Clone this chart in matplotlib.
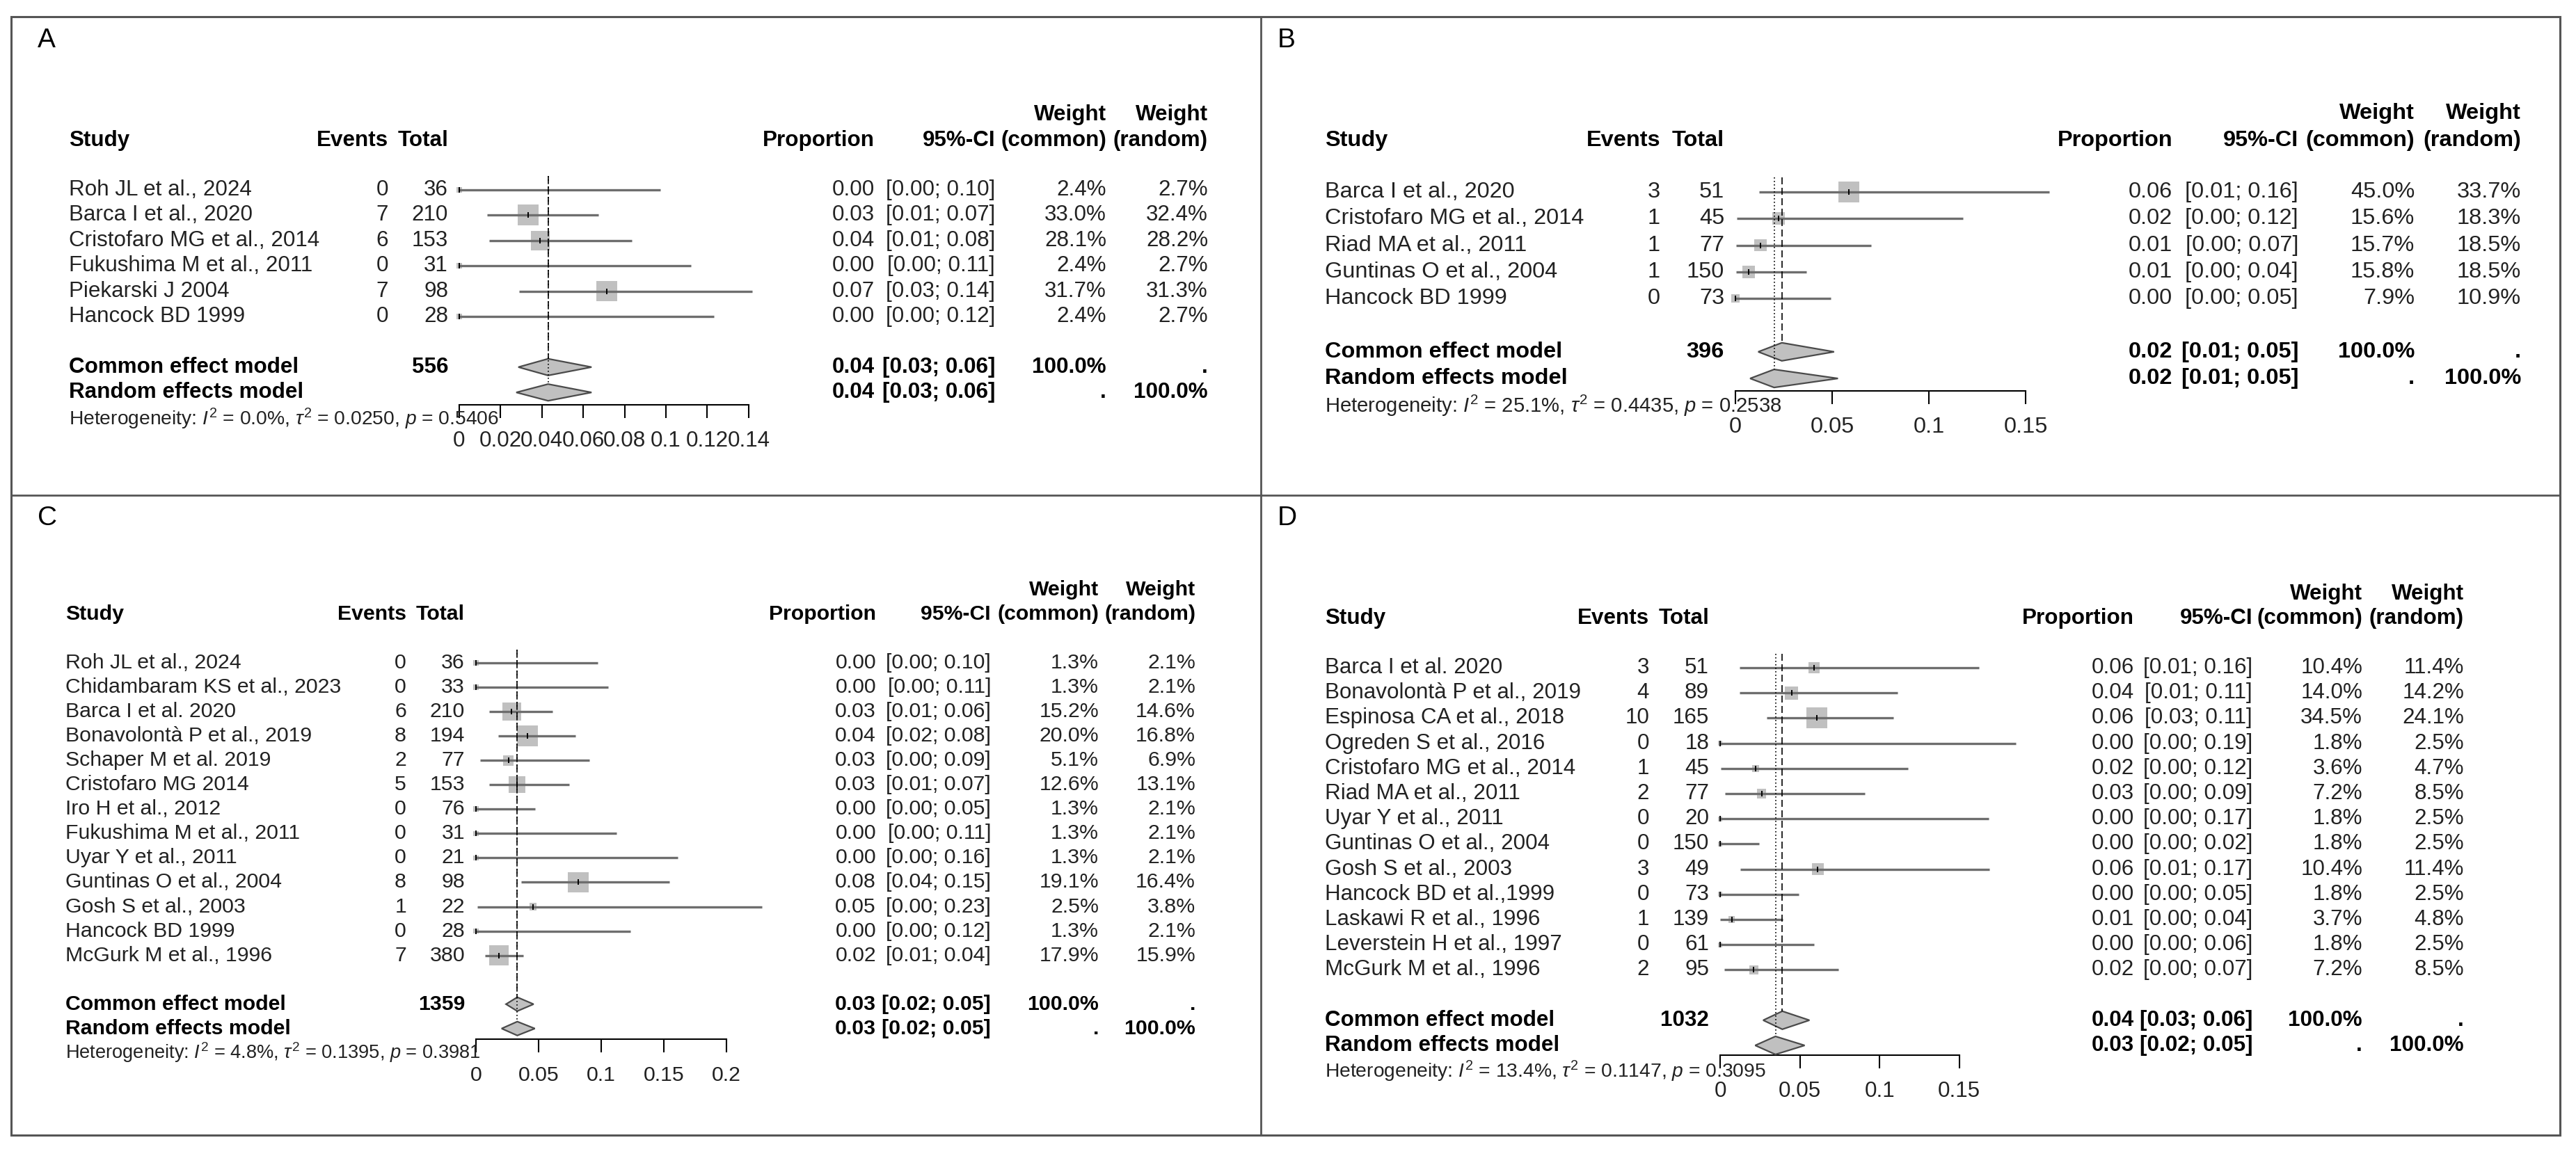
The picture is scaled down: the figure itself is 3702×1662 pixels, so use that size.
import matplotlib
matplotlib.use("Agg")
import matplotlib.pyplot as plt
from matplotlib.patches import Polygon, Rectangle
from matplotlib.transforms import blended_transform_factory
import numpy as np

plt.rcParams['font.family'] = ['Liberation Sans', 'DejaVu Sans']
plt.rcParams['mathtext.fontset'] = 'custom'
plt.rcParams['mathtext.rm'] = 'Liberation Sans'
plt.rcParams['mathtext.it'] = 'Liberation Sans:italic'
plt.rcParams['mathtext.bf'] = 'Liberation Sans:bold'

W, H = 3702, 1662

# ---------------- panel A ----------------
studies_a = ["Roh JL et al., 2024", "Barca I et al., 2020", "Cristofaro MG et al., 2014",
             "Fukushima M et al., 2011", "Piekarski J 2004", "Hancock BD 1999"]
events_a = [0, 7, 6, 0, 7, 0]
totals_a = [36, 210, 153, 31, 98, 28]
prop_a = [0.0, 0.0333, 0.0392, 0.0, 0.0714, 0.0]
lower_a = [0.0, 0.0135, 0.0145, 0.0, 0.0290, 0.0]
upper_a = [0.0974, 0.0675, 0.0834, 0.1120, 0.1417, 0.1234]
wcom_a = [2.4, 33.0, 28.1, 2.4, 31.7, 2.4]
wran_a = [2.7, 32.4, 28.2, 2.7, 31.3, 2.7]
common_a = [0.043, 0.0286, 0.064]
random_a = [0.043, 0.0276, 0.064]
het_a = [0.0, 0.0250, 0.5406]
ticks_a = [0, 0.02, 0.04, 0.06, 0.08, 0.1, 0.12, 0.14]
ticklabels_a = ["0", "0.02", "0.04", "0.06", "0.08", "0.1", "0.12", "0.14"]

# ---------------- panel B ----------------
studies_b = ["Barca I et al., 2020", "Cristofaro MG et al., 2014", "Riad MA et al., 2011",
             "Guntinas O et al., 2004", "Hancock BD 1999"]
events_b = [3, 1, 1, 1, 0]
totals_b = [51, 45, 77, 150, 73]
prop_b = [0.0588, 0.0222, 0.0130, 0.0067, 0.0]
lower_b = [0.0123, 0.0006, 0.0003, 0.0002, 0.0]
upper_b = [0.1624, 0.1177, 0.0702, 0.0366, 0.0493]
wcom_b = [45.0, 15.6, 15.7, 15.8, 7.9]
wran_b = [33.7, 18.3, 18.5, 18.5, 10.9]
common_b = [0.024, 0.0118, 0.051]
random_b = [0.020, 0.0076, 0.053]
het_b = [25.1, 0.4435, 0.2538]
ticks_b = [0, 0.05, 0.1, 0.15]
ticklabels_b = ["0", "0.05", "0.1", "0.15"]

# ---------------- panel C ----------------
studies_c = ["Roh JL et al., 2024", "Chidambaram KS et al., 2023", "Barca I et al. 2020",
             "Bonavolontà P et al., 2019", "Schaper M et al. 2019", "Cristofaro MG 2014",
             "Iro H et al., 2012", "Fukushima M et al., 2011", "Uyar Y et al., 2011",
             "Guntinas O et al., 2004", "Gosh S et al., 2003", "Hancock BD 1999",
             "McGurk M et al., 1996"]
events_c = [0, 0, 6, 8, 2, 5, 0, 0, 0, 8, 1, 0, 7]
totals_c = [36, 33, 210, 194, 77, 153, 76, 31, 21, 98, 22, 28, 380]
prop_c = [0.0, 0.0, 0.0286, 0.0412, 0.0260, 0.0327, 0.0, 0.0, 0.0, 0.0816, 0.04545, 0.0, 0.0184]
lower_c = [0.0, 0.0, 0.0105, 0.0180, 0.0032, 0.0107, 0.0, 0.0, 0.0, 0.0359, 0.0012, 0.0, 0.0074]
upper_c = [0.0974, 0.1058, 0.0611, 0.0796, 0.0907, 0.0746, 0.0474, 0.1120, 0.1610,
           0.1543, 0.2284, 0.1234, 0.0376]
wcom_c = [1.3, 1.3, 15.2, 20.0, 5.1, 12.6, 1.3, 1.3, 1.3, 19.1, 2.5, 1.3, 17.9]
wran_c = [2.1, 2.1, 14.6, 16.8, 6.9, 13.1, 2.1, 2.1, 2.1, 16.4, 3.8, 2.1, 15.9]
common_c = [0.033, 0.024, 0.046]
random_c = [0.033, 0.0205, 0.047]
het_c = [4.8, 0.1395, 0.3981]
ticks_c = [0, 0.05, 0.1, 0.15, 0.2]
ticklabels_c = ["0", "0.05", "0.1", "0.15", "0.2"]

# ---------------- panel D ----------------
studies_d = ["Barca I et al. 2020", "Bonavolontà P et al., 2019", "Espinosa CA et al., 2018",
             "Ogreden S et al., 2016", "Cristofaro MG et al., 2014", "Riad MA et al., 2011",
             "Uyar Y et al., 2011", "Guntinas O et al., 2004", "Gosh S et al., 2003",
             "Hancock BD et al.,1999", "Laskawi R et al., 1996", "Leverstein H et al., 1997",
             "McGurk M et al., 1996"]
events_d = [3, 4, 10, 0, 1, 2, 0, 0, 3, 0, 1, 0, 2]
totals_d = [51, 89, 165, 18, 45, 77, 20, 150, 49, 73, 139, 61, 95]
prop_d = [0.0588, 0.0449, 0.0606, 0.0, 0.0222, 0.0260, 0.0, 0.0, 0.0612, 0.0, 0.0072, 0.0, 0.0211]
lower_d = [0.0123, 0.0124, 0.0294, 0.0, 0.0006, 0.0032, 0.0, 0.0, 0.0128, 0.0, 0.0002, 0.0, 0.0026]
upper_d = [0.1624, 0.1111, 0.1087, 0.1853, 0.1177, 0.0907, 0.1685, 0.0243, 0.1687,
           0.0493, 0.0394, 0.0587, 0.0740]
wcom_d = [10.4, 14.0, 34.5, 1.8, 3.6, 7.2, 1.8, 1.8, 10.4, 1.8, 3.7, 1.8, 7.2]
wran_d = [11.4, 14.2, 24.1, 2.5, 4.7, 8.5, 2.5, 2.5, 11.4, 2.5, 4.8, 2.5, 8.5]
common_d = [0.039, 0.027, 0.056]
random_d = [0.0347, 0.022, 0.053]
het_d = [13.4, 0.1147, 0.3095]
ticks_d = [0, 0.05, 0.1, 0.15]
ticklabels_d = ["0", "0.05", "0.1", "0.15"]

# ---------------- layout (pixels) ----------------
layout_a = dict(label="A", box=(16, 24, 1812, 712), label_xy=(54, 58), study_x=99,
                events_x=558, total_x=644, head_y=(165, 202), row0=273, dy=36.4,
                het_y=602, zero_x=660, scale=2970, axis_y=582,
                cols=(1257, 1430, 1590, 1736), fs=22.6, dh=12)
layout_b = dict(label="B", box=(1812, 24, 3679, 712), label_xy=(1836, 58), study_x=1904,
                events_x=2386, total_x=2478, head_y=(163, 202), row0=276, dy=38.3,
                het_y=583, zero_x=2494, scale=2780, axis_y=562,
                cols=(3122, 3303, 3470, 3623), fs=23.4, dh=13)
layout_c = dict(label="C", box=(16, 712, 1812, 1632), label_xy=(54, 745), study_x=94,
                events_x=584, total_x=668, head_y=(848, 883), row0=953, dy=35.05,
                het_y=1513, zero_x=684, scale=1800, axis_y=1494,
                cols=(1259, 1424, 1579, 1718), fs=21.8, dh=10)
layout_d = dict(label="D", box=(1812, 712, 3679, 1632), label_xy=(1836, 745), study_x=1904,
                events_x=2370, total_x=2456, head_y=(854, 889), row0=960, dy=36.2,
                het_y=1540, zero_x=2472, scale=2292, axis_y=1517,
                cols=(3067, 3237, 3395, 3541), fs=22.6, dh=13)

TXT = "#222222"
LINE = "#6e6e6e"
FILL = "#c0c0c0"

fig = plt.figure(figsize=(W / 100, H / 100), dpi=100)
page = fig.add_axes([0, 0, 1, 1])
page.set_xlim(0, W)
page.set_ylim(H, 0)
page.axis("off")

# frame
page.add_patch(Rectangle((16, 24), 3679 - 16, 1632 - 24, fill=False, ec="#555555", lw=2.2))
page.plot([1812, 1812], [24, 1632], color="#555555", lw=2.0)
page.plot([16, 3679], [712, 712], color="#555555", lw=2.0)


def draw_panel(L, studies, events, totals, prop, lo, hi, wc, wr, common, random, het,
               ticks, ticklabels):
    n = len(studies)
    bx0, by0, bx1, by1 = L["box"]
    xmax = ticks[-1]
    left = L["zero_x"]
    right = left + xmax * L["scale"]
    dy, r0 = L["dy"], L["row0"]
    fs = L["fs"]

    ax = fig.add_axes([left / W, 1 - by1 / H, (right - left) / W, (by1 - by0) / H])
    ax.set_xlim(0, xmax)
    ax.set_ylim((by1 - r0) / dy, (by0 - r0) / dy)
    ax.patch.set_visible(False)
    for s in ["left", "right", "top"]:
        ax.spines[s].set_visible(False)
    ax.spines["bottom"].set_position(("data", (L["axis_y"] - r0) / dy))
    ax.spines["bottom"].set_bounds(0, xmax)
    ax.spines["bottom"].set_linewidth(1.5)
    ax.set_yticks([])
    ax.set_xticks(ticks)
    ax.set_xticklabels(ticklabels)
    ax.tick_params(axis="x", direction="out", length=14, width=1.5, pad=13,
                   labelsize=fs, labelcolor=TXT)

    rows = np.arange(n)
    tr = blended_transform_factory(page.transData, ax.transData)

    # squares, CI lines, point marks
    side = 30 * np.sqrt(np.array(wc) / max(wc)) * 0.72
    ax.scatter(prop, rows, marker="s", s=side ** 2, c=FILL, edgecolors="none",
               zorder=2, clip_on=False)
    ax.hlines(rows, lo, hi, colors=LINE, lw=2.4, zorder=3, clip_on=False)
    ax.scatter(prop, rows, marker="|", s=36, c="black", linewidths=1.4, zorder=4,
               clip_on=False)

    # pooled diamonds
    hh = L["dh"] / dy
    for r, (est, l, h) in [(n + 1, common), (n + 2, random)]:
        ax.add_patch(Polygon([(l, r), (est, r - hh), (h, r), (est, r + hh)], closed=True,
                             fc=FILL, ec="#4a4a4a", lw=1.6, zorder=3, clip_on=False))
    ax.plot([common[0], common[0]], [-0.55, n + 1 - hh], color="black", lw=1.2,
            ls=(0, (6, 3)), zorder=5, clip_on=False)
    ax.plot([random[0], random[0]], [-0.55, n + 2 - hh], color="black", lw=1.2,
            ls=(0, (1, 2)), zorder=5, clip_on=False)

    # headers
    hy1, hy2 = L["head_y"]
    cp, cci, cwc, cwr = L["cols"]
    bold = dict(fontsize=fs, fontweight="bold", color="black", va="center")
    page.text(L["study_x"], hy2, "Study", ha="left", **bold)
    page.text(L["events_x"], hy2, "Events", ha="right", **bold)
    page.text(L["total_x"], hy2, "Total", ha="right", **bold)
    page.text(cp, hy2, "Proportion", ha="right", **bold)
    page.text(cci, hy2, "95%-CI", ha="right", **bold)
    page.text(cwc, hy1, "Weight", ha="right", **bold)
    page.text(cwc, hy2, "(common)", ha="right", **bold)
    page.text(cwr, hy1, "Weight", ha="right", **bold)
    page.text(cwr, hy2, "(random)", ha="right", **bold)

    # study rows
    norm = dict(fontsize=fs, color=TXT, va="center", transform=tr, clip_on=False)
    for i in range(n):
        ax.text(L["study_x"], i, studies[i], ha="left", **norm)
        ax.text(L["events_x"], i, str(events[i]), ha="right", **norm)
        ax.text(L["total_x"], i, str(totals[i]), ha="right", **norm)
        ax.text(cp, i, f"{prop[i]:.2f}", ha="right", **norm)
        ax.text(cci, i, f"[{lo[i]:.2f}; {hi[i]:.2f}]", ha="right", **norm)
        ax.text(cwc, i, f"{wc[i]:.1f}%", ha="right", **norm)
        ax.text(cwr, i, f"{wr[i]:.1f}%", ha="right", **norm)

    # pooled rows
    bnorm = dict(fontsize=fs, color="black", fontweight="bold", va="center",
                 transform=tr, clip_on=False)
    rc, rr = n + 1, n + 2
    ax.text(L["study_x"], rc, "Common effect model", ha="left", **bnorm)
    ax.text(L["total_x"], rc, str(sum(totals)), ha="right", **bnorm)
    ax.text(cp, rc, f"{common[0]:.2f}", ha="right", **bnorm)
    ax.text(cci, rc, f"[{common[1]:.2f}; {common[2]:.2f}]", ha="right", **bnorm)
    ax.text(cwc, rc, "100.0%", ha="right", **bnorm)
    ax.text(cwr, rc, ".", ha="right", **bnorm)
    ax.text(L["study_x"], rr, "Random effects model", ha="left", **bnorm)
    ax.text(cp, rr, f"{random[0]:.2f}", ha="right", **bnorm)
    ax.text(cci, rr, f"[{random[1]:.2f}; {random[2]:.2f}]", ha="right", **bnorm)
    ax.text(cwc, rr, ".", ha="right", **bnorm)
    ax.text(cwr, rr, "100.0%", ha="right", **bnorm)

    het_txt = (rf"Heterogeneity: $\mathit{{I}}^2$ = {het[0]:.1f}%, "
               rf"$\tau^2$ = {het[1]:.4f}, $\mathit{{p}}$ = {het[2]:.4f}")
    ax.text(L["study_x"], (L["het_y"] - r0) / dy, het_txt, ha="left",
            fontsize=fs * 0.9, color=TXT, va="center", transform=tr, clip_on=False)

    page.text(L["label_xy"][0], L["label_xy"][1], L["label"], fontsize=28, color="black",
              ha="left", va="center")


draw_panel(layout_a, studies_a, events_a, totals_a, prop_a, lower_a, upper_a, wcom_a, wran_a,
           common_a, random_a, het_a, ticks_a, ticklabels_a)
draw_panel(layout_b, studies_b, events_b, totals_b, prop_b, lower_b, upper_b, wcom_b, wran_b,
           common_b, random_b, het_b, ticks_b, ticklabels_b)
draw_panel(layout_c, studies_c, events_c, totals_c, prop_c, lower_c, upper_c, wcom_c, wran_c,
           common_c, random_c, het_c, ticks_c, ticklabels_c)
draw_panel(layout_d, studies_d, events_d, totals_d, prop_d, lower_d, upper_d, wcom_d, wran_d,
           common_d, random_d, het_d, ticks_d, ticklabels_d)

fig.savefig("out.png", dpi=100, facecolor="white")
